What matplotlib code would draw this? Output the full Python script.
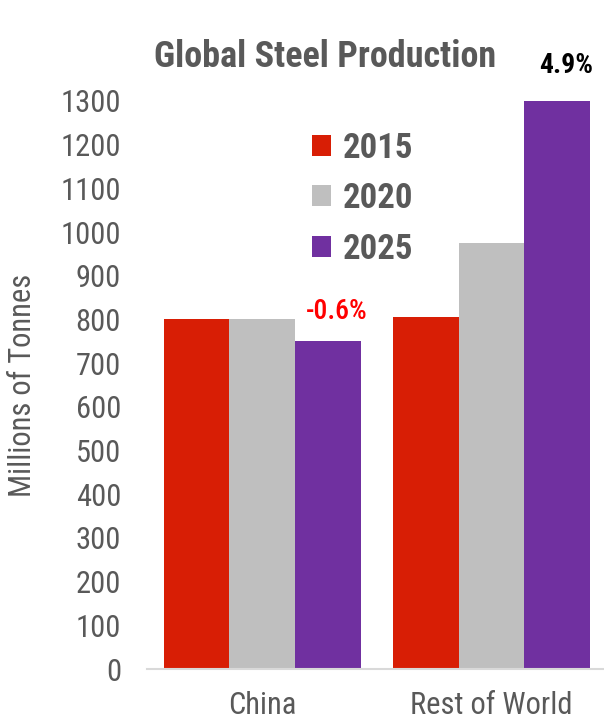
import matplotlib
matplotlib.use("Agg")
import matplotlib.pyplot as plt
import numpy as np

plt.rcParams["font.family"] = ["Roboto Condensed", "DejaVu Sans"]

REGIONS = ["China", "Rest of World"]
YEARS = ["2015", "2020", "2025"]
PRODUCTION = {
    "2015": [800, 805],
    "2020": [800, 975],
    "2025": [750, 1300],
}
GROWTH_LABELS = ["-0.6%", "4.9%"]
COLORS = {"2015": "#d81e05", "2020": "#bfbfbf", "2025": "#7030a0"}
GROWTH_COLORS = ["#ff0000", "#000000"]
TEXT = "#595959"

fig = plt.figure(figsize=(6.04, 7.21), dpi=100)
ax = fig.add_axes([0.244, 0.072, 0.756, 0.788])

x = np.arange(len(REGIONS))
w = 0.286
for i, yr in enumerate(YEARS):
    ax.bar(x + (i - 1) * w, PRODUCTION[yr], width=w, color=COLORS[yr], label=yr,
           zorder=2)

growth_weight = ["medium", "bold"]
for j, lab in enumerate(GROWTH_LABELS):
    top = PRODUCTION["2025"][j]
    ax.text(x[j] + w + 0.04, top + 38 + 12 * j, lab, ha="center", va="bottom",
            fontsize=20, color=GROWTH_COLORS[j], fontweight=growth_weight[j],
            clip_on=False)

ax.set_xlim(-0.5, 1.49)
ax.set_ylim(0, 1300)
ax.set_yticks(np.arange(0, 1301, 100))
ax.tick_params(axis="both", length=0, labelsize=22, labelcolor=TEXT)
ax.tick_params(axis="y", pad=19)
ax.tick_params(axis="x", pad=16)
ax.set_xticks(x)
ax.set_xticklabels(REGIONS, fontsize=22)
for s in ("top", "right", "left"):
    ax.spines[s].set_visible(False)
ax.spines["bottom"].set_color("#d9d9d9")
ax.spines["bottom"].set_linewidth(1.5)

ax.set_ylabel("Millions of Tonnes", fontsize=22, color=TEXT, labelpad=17)

fig.text(0.538, 0.921, "Global Steel Production", ha="center", va="center",
         fontsize=26, fontweight="bold", color=TEXT)

leg = ax.legend(loc="upper left", bbox_to_anchor=(0.33, 0.97), frameon=False,
                prop={"size": 25, "weight": "bold"}, handlelength=0.55,
                handleheight=0.55, handletextpad=0.35, labelspacing=0.5,
                borderaxespad=0)
for t in leg.get_texts():
    t.set_color(TEXT)

fig.savefig("out.png", dpi=100)
